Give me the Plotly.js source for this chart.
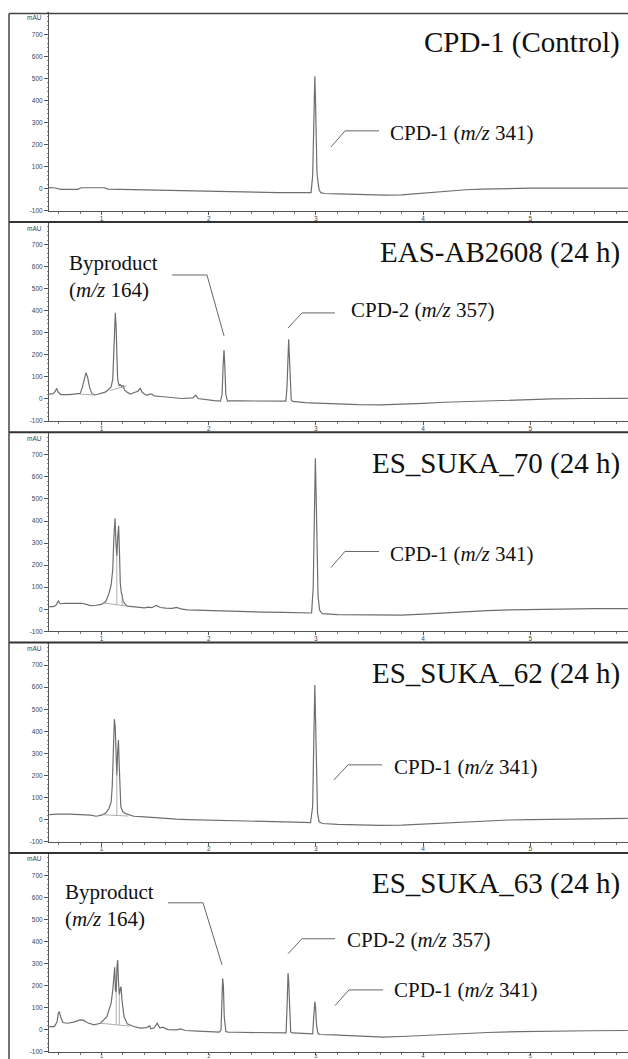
<!DOCTYPE html>
<html><head><meta charset="utf-8">
<script src="https://cdn.plot.ly/plotly-3.0.1.min.js"></script>
<style>html,body{margin:0;padding:0;background:#fff}#chart{width:628px;height:1059px}</style>
</head><body><div id="chart"></div>
<script>
// ---------------- DATA (retention time in min, absorbance in mAU) ----------------
const panelTitles = ['CPD-1 (Control)', 'EAS-AB2608 (24 h)', 'ES_SUKA_70 (24 h)', 'ES_SUKA_62 (24 h)', 'ES_SUKA_63 (24 h)'];
const yTickVals = [-100, 0, 100, 200, 300, 400, 500, 600, 700];
const yTickText = ['-100', '0', '100', '200', '300', '400', '500', '600', '700'];
const xTickVals = [1, 2, 3, 4, 5, 6];
const yUnit = 'mAU';

const rtControl = [0.51,0.54,0.57,0.62,0.70,0.78,0.81,0.88,0.95,1.03,1.06,1.15,1.30,1.45,1.60,1.75,1.90,2.05,2.20,2.35,2.50,2.65,2.80,2.955,2.970,2.980,2.990,2.997,3.003,3.010,3.020,3.030,3.045,3.08,3.20,3.35,3.50,3.65,3.80,3.95,4.10,4.25,4.40,4.55,4.70,4.85,5.00,5.30,5.60,5.91];
const absControl = [5,5,3,-3,-3,-3,4,5,5,4,-2,-3,-3,-8,-9,-11,-13,-14,-15,-16,-17,-18,-18,-18,60,300,510,380,150,70,30,-5,-18,-22,-24,-26,-28,-29,-28,-22,-15,-10,-5,-2,0,1,2,2,2,2];

const rtEAS = [0.513,0.55,0.57,0.582,0.595,0.62,0.70,0.78,0.80,0.82,0.84,0.855,0.87,0.89,0.91,0.935,0.96,1.00,1.04,1.07,1.09,1.105,1.115,1.122,1.129,1.136,1.143,1.15,1.158,1.165,1.175,1.19,1.20,1.215,1.24,1.27,1.30,1.34,1.36,1.38,1.42,1.45,1.47,1.49,1.55,1.65,1.75,1.85,1.88,1.90,1.95,2.05,2.11,2.125,2.135,2.143,2.15,2.16,2.175,2.20,2.30,2.40,2.50,2.60,2.70,2.72,2.73,2.74,2.746,2.752,2.76,2.77,2.785,2.83,2.90,3.0,3.2,3.4,3.6,3.8,4.0,4.2,4.4,4.6,4.8,5.0,5.2,5.5,5.91];
const absEAS = [22,24,35,48,32,20,20,22,25,50,95,119,100,50,25,18,20,25,32,45,55,90,220,340,391,330,180,95,72,60,65,55,62,40,30,22,28,35,48,30,16,22,22,14,11,7,2,5,17,2,-2,-8,-10,20,160,222,150,20,-10,-9,-9,-9,-9,-9,-10,-10,50,230,270,200,60,-5,-11,-14,-17,-19,-23,-26,-27,-25,-20,-15,-12,-8,-5,-1,0,2,3];

const rtSUKA70 = [0.513,0.55,0.575,0.597,0.615,0.65,0.75,0.82,0.86,0.90,0.95,1.00,1.04,1.07,1.09,1.105,1.115,1.126,1.135,1.143,1.152,1.160,1.168,1.175,1.185,1.192,1.20,1.215,1.24,1.28,1.35,1.40,1.44,1.47,1.51,1.55,1.60,1.66,1.70,1.74,1.80,1.92,2.10,2.30,2.50,2.70,2.90,2.96,2.975,2.985,2.995,3.003,3.01,3.02,3.035,3.06,3.2,3.4,3.6,3.8,4.0,4.2,4.4,4.6,4.8,5.0,5.3,5.6,5.91];
const absSUKA70 = [12,12,18,38,25,27,27,27,22,16,18,22,35,72,110,180,320,413,300,240,330,378,250,120,75,65,40,25,14,12,10,6,10,7,17,8,5,4,8,2,-3,-5,-7,-10,-13,-14,-15,-17,100,450,685,500,200,60,-5,-20,-24,-26,-28,-27,-22,-16,-10,-6,-3,-1,1,3,3];

const rtSUKA62 = [0.513,0.56,0.60,0.70,0.80,0.90,0.95,1.00,1.04,1.07,1.09,1.10,1.11,1.12,1.128,1.135,1.143,1.15,1.158,1.165,1.172,1.18,1.19,1.20,1.22,1.25,1.30,1.40,1.50,1.60,1.70,1.80,2.00,2.20,2.40,2.60,2.80,2.95,2.97,2.98,2.99,2.997,3.005,3.015,3.03,3.06,3.2,3.4,3.6,3.8,4.0,4.2,4.4,4.6,4.8,5.0,5.3,5.6,5.91];
const absSUKA62 = [22,25,25,25,22,20,15,20,30,50,80,150,300,455,420,260,200,300,360,250,110,60,45,35,28,22,15,12,8,5,2,0,-3,-5,-8,-10,-12,-14,60,350,610,450,150,30,-10,-18,-22,-25,-26,-25,-20,-14,-9,-5,-2,0,2,4,5];

const rtSUKA63 = [0.513,0.56,0.585,0.597,0.607,0.618,0.64,0.68,0.74,0.80,0.83,0.87,0.93,0.99,1.05,1.09,1.105,1.115,1.123,1.130,1.137,1.145,1.151,1.158,1.166,1.174,1.182,1.19,1.21,1.24,1.30,1.36,1.42,1.45,1.46,1.49,1.52,1.545,1.57,1.62,1.70,1.74,1.78,1.90,2.05,2.10,2.115,2.125,2.13,2.137,2.145,2.16,2.18,2.25,2.40,2.55,2.70,2.722,2.732,2.74,2.746,2.754,2.765,2.78,2.85,2.95,2.97,2.98,2.99,2.997,3.006,3.02,3.04,3.16,3.40,3.63,3.85,4.09,4.35,4.60,4.90,5.21,5.55,5.91];
const absSUKA63 = [15,15,35,75,83,60,33,30,35,45,44,32,23,30,60,121,180,260,284,180,170,290,317,220,160,185,196,140,60,27,15,8,10,18,5,8,30,8,12,1,0,4,-3,-6,-10,-10,0,150,234,200,60,-8,-10,-11,-12,-14,-14,-14,120,257,220,70,-10,-14,-15,-18,-18,60,128,100,20,-18,-21,-23,-28,-33,-29,-23,-17,-12,-8,-5,-4,-3];

// integration baselines / drop lines (null = gap)
const baseRtEAS = [0.795,0.935,null,1.08,1.235];
const baseAbsEAS = [22,18,null,38,60];
const baseRtSUKA70 = [1.02,1.23,null,1.143,1.143,null,1.192,1.192];
const baseAbsSUKA70 = [28,15,null,240,21,null,65,17];
const baseRtSUKA62 = [1.00,1.25,null,1.143,1.143];
const baseAbsSUKA62 = [22,16,null,200,19];
const baseRtSUKA63 = [0.99,1.26,null,1.137,1.137,null,1.166,1.166];
const baseAbsSUKA63 = [30,17,null,170,26,null,160,23];

const peakLabels = [
  {panel:0, text:'CPD-1 (<i>m/z</i> 341)'},
  {panel:1, text:'Byproduct<br>(<i>m/z</i> 164)'},
  {panel:1, text:'CPD-2 (<i>m/z</i> 357)'},
  {panel:2, text:'CPD-1 (<i>m/z</i> 341)'},
  {panel:3, text:'CPD-1 (<i>m/z</i> 341)'},
  {panel:4, text:'Byproduct<br>(<i>m/z</i> 164)'},
  {panel:4, text:'CPD-2 (<i>m/z</i> 357)'},
  {panel:4, text:'CPD-1 (<i>m/z</i> 341)'}
];

// ---------------- LAYOUT (positions / styles) ----------------
const series = [[rtControl,absControl],[rtEAS,absEAS],[rtSUKA70,absSUKA70],[rtSUKA62,absSUKA62],[rtSUKA63,absSUKA63]];
const bases = [null,[baseRtEAS,baseAbsEAS],[baseRtSUKA70,baseAbsSUKA70],[baseRtSUKA62,baseAbsSUKA62],[baseRtSUKA63,baseAbsSUKA63]];
// label placement: text anchor (t,v) and leader polyline
const labelPos = [
  {tx:3.673, ty:252, lt:[3.141,3.271,3.589], lv:[189,262,262]},
  {tx:0.678, ty:556, lt:[1.658,1.984,2.143], lv:[562,562,286]},
  {tx:3.309, ty:404, lt:[2.740,2.870,3.178], lv:[322,390,390]},
  {tx:3.673, ty:252, lt:[3.141,3.271,3.589], lv:[189,262,262]},
  {tx:3.710, ty:240, lt:[3.169,3.300,3.617], lv:[180,248,248]},
  {tx:0.641, ty:562, lt:[1.620,1.947,2.124], lv:[576,576,295]},
  {tx:3.271, ty:408, lt:[2.740,2.870,3.178], lv:[345,413,413]},
  {tx:3.710, ty:181, lt:[3.178,3.309,3.626], lv:[110,181,181]}
];

const ML=49, MT=12, MB=7, PW=579, PH=1040;
const fy = py => 1-(py-MT)/PH;
const fx = px => (px-ML)/PW;
const xRange = [1+(49-101.5)/107.2, 1+(628-101.5)/107.2];
const serif = 'Liberation Serif, Times New Roman, serif';
const sans = 'Liberation Sans, Arial, sans-serif';
const lineCol = '#6e6e6e';

const traces = [];
const layout = {
  width:628, height:1059, margin:{l:ML, r:0, t:MT, b:MB},
  paper_bgcolor:'#fff', plot_bgcolor:'#fff', showlegend:false,
  annotations:[], shapes:[]
};
const ax = k => k===0 ? '' : String(k+1);

for (let k=0;k<5;k++){
  const bottom = 210.7+210.3*k, top = bottom-198.5;
  const xa = 'xaxis'+ax(k), ya = 'yaxis'+ax(k);
  const last = (k===4);
  layout[xa] = {
    domain:[0,1], anchor:'y'+ax(k), range:xRange, tickvals:xTickVals, ticktext:xTickVals.map(String),
    showline:true, linecolor:'#555', linewidth:1, ticks:'outside', ticklen:last?2:3, tickcolor:'#555', tickwidth:1,
    minor:{dtick:0.2, tick0:0, ticks:'outside', ticklen:2, tickcolor:'#777'},
    ticklabelstandoff:last?-4:-2,
    tickfont:{family:sans, size:last?5.5:6.5, color:'#444'}, showgrid:false, zeroline:false, fixedrange:true
  };
  layout[ya] = {
    domain:[fy(bottom), fy(top)], anchor:'x'+ax(k), range:[-100,800], tickvals:yTickVals, ticktext:yTickText,
    showline:true, linecolor:'#555', linewidth:1, ticks:'outside', ticklen:4, tickcolor:'#555', tickwidth:1,
    minor:{dtick:20, ticks:'outside', ticklen:1.5, tickcolor:'#888'},
    tickfont:{family:sans, size:6.5, color:'#444'}, showgrid:false, zeroline:false, fixedrange:true
  };
  traces.push({x:series[k][0], y:series[k][1], xaxis:'x'+ax(k), yaxis:'y'+ax(k), mode:'lines',
    line:{color:lineCol, width:1.2}, hoverinfo:'skip'});
  if (bases[k]) traces.push({x:bases[k][0], y:bases[k][1], xaxis:'x'+ax(k), yaxis:'y'+ax(k), mode:'lines',
    line:{color:'#999', width:0.8}, connectgaps:false, hoverinfo:'skip'});
  layout.annotations.push({text:panelTitles[k], xref:'paper', x:fx(622), xanchor:'right', yref:'y'+ax(k), y:662, yanchor:'middle',
    showarrow:false, font:{family:serif, size:29, color:'#111'}});
  layout.annotations.push({text:yUnit, xref:'paper', x:0, xanchor:'right', xshift:-5, yref:'y'+ax(k), y:775, yanchor:'middle',
    showarrow:false, font:{family:sans, size:6.5, color:'#444'}});
  if (k>0) layout.shapes.push({type:'line', xref:'paper', yref:'paper', x0:fx(9), x1:fx(628), y0:fy(top-0.5), y1:fy(top-0.5),
    line:{color:'#333', width:2}});
}
// frame
layout.shapes.push({type:'line', xref:'paper', yref:'paper', x0:fx(9), x1:fx(628), y0:fy(13.5), y1:fy(13.5), line:{color:'#444', width:1.5}});
layout.shapes.push({type:'line', xref:'paper', yref:'paper', x0:fx(9), x1:fx(9), y0:fy(13.5), y1:fy(1059), line:{color:'#444', width:1.5}});

peakLabels.forEach((p,i)=>{
  const pos = labelPos[i], a = ax(p.panel);
  layout.annotations.push({text:p.text, xref:'x'+a, yref:'y'+a, x:pos.tx, y:pos.ty, xanchor:'left', yanchor:'middle', align:'left',
    showarrow:false, font:{family:serif, size:21, color:'#111'}});
  const path = pos.lt.map((t,j)=>(j?'L':'M')+t+','+pos.lv[j]).join(' ');
  layout.shapes.push({type:'path', xref:'x'+a, yref:'y'+a, path:path, line:{color:'#555', width:0.9}});
});

Plotly.newPlot('chart', traces, layout, {staticPlot:true, displayModeBar:false});
</script></body></html>
